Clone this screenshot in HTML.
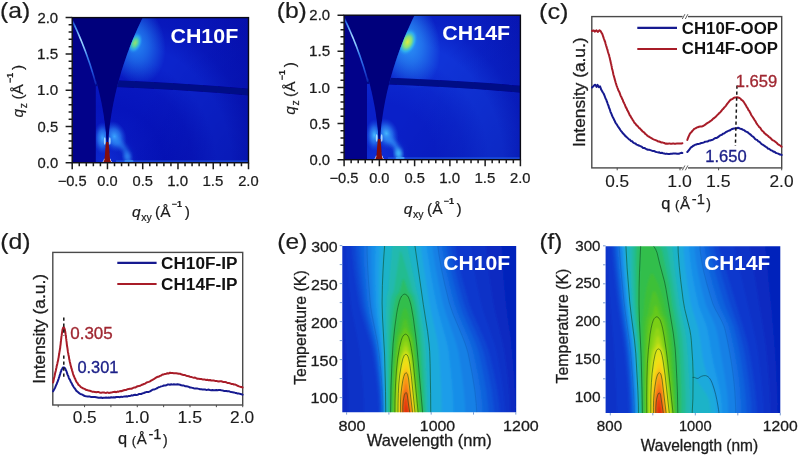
<!DOCTYPE html>
<html lang="en"><head><meta charset="utf-8"><title>Figure</title>
<style>
html,body{margin:0;padding:0;background:#fff;}
body{width:799px;height:456px;overflow:hidden;}
svg{display:block;font-family:'Liberation Sans', Arial, Helvetica, sans-serif;}
</style></head>
<body>
<svg width="799" height="456" viewBox="0 0 799 456">
<defs>
<clipPath id="pac"><rect x="72.20" y="17.60" width="176.30" height="145.15"/></clipPath>
<clipPath id="par"><path d="M107.46 162.75L107.52 156.64L107.71 150.53L108.02 144.42L108.46 138.32L109.02 132.21L109.71 126.10L110.52 119.99L111.46 113.88L112.52 107.77L113.70 101.67L115.02 95.56L116.45 89.45L118.01 83.34L119.70 77.23L121.51 71.12L123.45 65.02L125.51 58.91L127.69 52.80L130.00 46.69L132.44 40.58L135.00 34.47L137.68 28.37L140.49 22.26L143.43 16.15L248.50 16.15L248.50 162.75Z"/></clipPath>
<clipPath id="pal"><path d="M107.46 162.75L107.44 159.36L107.38 155.98L107.29 152.59L107.15 149.20L106.98 145.82L106.77 142.43L106.52 139.04L106.23 135.66L105.91 132.27L105.54 128.88L105.14 125.49L104.70 122.11L104.22 118.72L103.70 115.33L103.14 111.95L102.55 108.56L101.91 105.17L101.24 101.79L100.53 98.40L99.78 95.01L98.99 91.63L98.17 88.24L97.30 84.85L96.40 81.47L95.82 81.47L95.82 162.75Z"/></clipPath>
<radialGradient id="pag" gradientUnits="userSpaceOnUse" cx="107.46" cy="162.75" r="204.51"><stop offset="0.0000" stop-color="#0e2cd4"/><stop offset="0.0862" stop-color="#0a22c8"/><stop offset="0.1552" stop-color="#0818c0"/><stop offset="0.2759" stop-color="#0614bc"/><stop offset="0.4138" stop-color="#0818c0"/><stop offset="0.5345" stop-color="#0c24cc"/><stop offset="0.6034" stop-color="#0c24cc"/><stop offset="0.7241" stop-color="#0818bc"/><stop offset="1.0000" stop-color="#0610b0"/></radialGradient>
<linearGradient id="padk" gradientUnits="userSpaceOnUse" x1="149.8" y1="90.2" x2="248.5" y2="162.8"><stop offset="0" stop-color="#000080" stop-opacity="0"/><stop offset="1" stop-color="#000080" stop-opacity="0.3"/></linearGradient>
<filter id="pab0" x="-50%" y="-50%" width="200%" height="200%"><feGaussianBlur stdDeviation="0.35"/></filter>
<filter id="pab1" x="-50%" y="-50%" width="200%" height="200%"><feGaussianBlur stdDeviation="0.7"/></filter>
<filter id="pab2" x="-50%" y="-50%" width="200%" height="200%"><feGaussianBlur stdDeviation="2.2"/></filter>
<filter id="pab3" x="-50%" y="-50%" width="200%" height="200%"><feGaussianBlur stdDeviation="5"/></filter>
<radialGradient id="pah1"><stop offset="0" stop-color="#2488f4" stop-opacity="1"/><stop offset="0.45" stop-color="#2488f4" stop-opacity="0.6"/><stop offset="1" stop-color="#2488f4" stop-opacity="0"/></radialGradient>
<radialGradient id="pah2"><stop offset="0" stop-color="#98e070" stop-opacity="1"/><stop offset="0.35" stop-color="#58d8a0" stop-opacity="0.95"/><stop offset="0.68" stop-color="#30b0f0" stop-opacity="0.7"/><stop offset="1" stop-color="#2080f0" stop-opacity="0"/></radialGradient>
<radialGradient id="pah3"><stop offset="0" stop-color="#3ca4ff" stop-opacity="1"/><stop offset="0.5" stop-color="#2a80f4" stop-opacity="0.7"/><stop offset="1" stop-color="#1a50e0" stop-opacity="0"/></radialGradient>
<linearGradient id="paag" gradientUnits="userSpaceOnUse" x1="0" y1="19.8" x2="0" y2="84.4"><stop offset="0" stop-color="#2a6ae8" stop-opacity="0.3"/><stop offset="0.1" stop-color="#3a88f0"/><stop offset="0.3" stop-color="#a0d8ff"/><stop offset="0.42" stop-color="#88c8ff"/><stop offset="0.58" stop-color="#3880ee"/><stop offset="0.8" stop-color="#2054dc"/><stop offset="1" stop-color="#1a40d0" stop-opacity="0.5"/></linearGradient>
<clipPath id="pbc"><rect x="344.10" y="15.20" width="176.30" height="144.50"/></clipPath>
<clipPath id="pbr"><path d="M379.36 159.70L379.42 153.62L379.61 147.54L379.92 141.46L380.36 135.38L380.92 129.29L381.61 123.21L382.42 117.13L383.36 111.05L384.42 104.97L385.60 98.89L386.92 92.81L388.35 86.73L389.91 80.65L391.60 74.57L393.41 68.48L395.35 62.40L397.41 56.32L399.59 50.24L401.90 44.16L404.34 38.08L406.90 32.00L409.58 25.92L412.39 19.84L415.33 13.75L520.40 13.75L520.40 159.70Z"/></clipPath>
<clipPath id="pbl"><path d="M379.36 159.70L379.34 156.33L379.28 152.96L379.19 149.58L379.05 146.21L378.88 142.84L378.67 139.47L378.42 136.10L378.13 132.73L377.81 129.35L377.44 125.98L377.04 122.61L376.60 119.24L376.12 115.87L375.60 112.50L375.04 109.12L374.45 105.75L373.81 102.38L373.14 99.01L372.43 95.64L371.68 92.27L370.89 88.89L370.07 85.52L369.20 82.15L368.30 78.78L367.02 78.78L367.02 159.70Z"/></clipPath>
<radialGradient id="pbg" gradientUnits="userSpaceOnUse" cx="379.36" cy="159.70" r="204.51"><stop offset="0.0000" stop-color="#1030d8"/><stop offset="0.0862" stop-color="#0c28ce"/><stop offset="0.1552" stop-color="#0a20c8"/><stop offset="0.2759" stop-color="#0a20c8"/><stop offset="0.4138" stop-color="#0c28ce"/><stop offset="0.5345" stop-color="#1034d8"/><stop offset="0.6034" stop-color="#1034d8"/><stop offset="0.7241" stop-color="#0a22c6"/><stop offset="1.0000" stop-color="#0816b4"/></radialGradient>
<linearGradient id="pbdk" gradientUnits="userSpaceOnUse" x1="421.7" y1="87.4" x2="520.4" y2="159.7"><stop offset="0" stop-color="#000080" stop-opacity="0"/><stop offset="1" stop-color="#000080" stop-opacity="0.25"/></linearGradient>
<filter id="pbb0" x="-50%" y="-50%" width="200%" height="200%"><feGaussianBlur stdDeviation="0.35"/></filter>
<filter id="pbb1" x="-50%" y="-50%" width="200%" height="200%"><feGaussianBlur stdDeviation="0.7"/></filter>
<filter id="pbb2" x="-50%" y="-50%" width="200%" height="200%"><feGaussianBlur stdDeviation="2.2"/></filter>
<filter id="pbb3" x="-50%" y="-50%" width="200%" height="200%"><feGaussianBlur stdDeviation="5"/></filter>
<radialGradient id="pbh1"><stop offset="0" stop-color="#2c98f8" stop-opacity="1"/><stop offset="0.45" stop-color="#2c98f8" stop-opacity="0.6"/><stop offset="1" stop-color="#2c98f8" stop-opacity="0"/></radialGradient>
<radialGradient id="pbh2"><stop offset="0" stop-color="#dcec40" stop-opacity="1"/><stop offset="0.4" stop-color="#88e478" stop-opacity="0.95"/><stop offset="0.7" stop-color="#30bcf0" stop-opacity="0.7"/><stop offset="1" stop-color="#2080f0" stop-opacity="0"/></radialGradient>
<radialGradient id="pbh3"><stop offset="0" stop-color="#46baff" stop-opacity="1"/><stop offset="0.5" stop-color="#2a80f4" stop-opacity="0.7"/><stop offset="1" stop-color="#1a50e0" stop-opacity="0"/></radialGradient>
<linearGradient id="pbag" gradientUnits="userSpaceOnUse" x1="0" y1="17.4" x2="0" y2="81.7"><stop offset="0" stop-color="#2a6ae8" stop-opacity="0.3"/><stop offset="0.1" stop-color="#3a88f0"/><stop offset="0.3" stop-color="#a0d8ff"/><stop offset="0.42" stop-color="#88c8ff"/><stop offset="0.58" stop-color="#3880ee"/><stop offset="0.8" stop-color="#2054dc"/><stop offset="1" stop-color="#1a40d0" stop-opacity="0.5"/></linearGradient>
<clipPath id="pec"><rect x="342.30" y="246.00" width="173.90" height="166.20"/></clipPath>
<filter id="pebl" x="-5%" y="-5%" width="110%" height="110%"><feGaussianBlur stdDeviation="0.8"/></filter>
<clipPath id="pfc"><rect x="605.60" y="246.20" width="174.70" height="166.80"/></clipPath>
<filter id="pfbl" x="-5%" y="-5%" width="110%" height="110%"><feGaussianBlur stdDeviation="0.8"/></filter>
</defs>
<rect width="799" height="456" fill="#ffffff"/>
<g id="pa">
<g clip-path="url(#pac)">
<rect x="72.20" y="17.60" width="176.30" height="145.15" fill="#02028a"/>
<path d="M71.49 16.15L74.43 22.26L77.24 28.37L79.92 34.47L82.48 40.58L84.92 46.69L87.23 52.80L89.41 58.91L91.47 65.02L93.41 71.12L95.22 77.23L96.91 83.34L98.47 89.45L99.90 95.56L101.22 101.67L102.40 107.77L103.46 113.88L104.40 119.99L105.21 126.10L105.90 132.21L106.46 138.32L106.90 144.42L107.21 150.53L107.40 156.64L107.46 162.75L107.46 162.75L107.52 156.64L107.71 150.53L108.02 144.42L108.46 138.32L109.02 132.21L109.71 126.10L110.52 119.99L111.46 113.88L112.52 107.77L113.70 101.67L115.02 95.56L116.45 89.45L118.01 83.34L119.70 77.23L121.51 71.12L123.45 65.02L125.51 58.91L127.69 52.80L130.00 46.69L132.44 40.58L135.00 34.47L137.68 28.37L140.49 22.26L143.43 16.15Z" fill="#00007c"/>
<g clip-path="url(#par)">
<rect x="72.20" y="17.60" width="176.30" height="145.15" fill="url(#pag)"/>
<rect x="72.20" y="17.60" width="176.30" height="145.15" fill="url(#padk)"/>
<ellipse cx="135.10" cy="42.86" rx="42" ry="30" transform="rotate(77.0 135.10 42.86)" fill="url(#pah1)"/>
<ellipse cx="135.10" cy="42.86" rx="7" ry="11" transform="rotate(21.8 135.10 42.86)" fill="url(#pah2)"/>
<ellipse cx="114.51" cy="136.62" rx="12" ry="16" transform="rotate(-18 114.5 136.6)" fill="url(#pah3)"/>
<path d="M113.10 139.63A20.80 23.55 0 0 1 128.26 161.30" fill="none" stroke="#2f8cf6" stroke-opacity="0.75" stroke-width="4.5" filter="url(#pab2)"/>
<ellipse cx="128.97" cy="161.15" rx="4.6" ry="1.3" fill="#58b8ff" opacity="0.6" filter="url(#pab1)"/>
<ellipse cx="127.21" cy="156.58" rx="2.6" ry="4.2" fill="#3aa0ff" opacity="0.7" filter="url(#pab2)"/>
<rect x="115.92" y="160.35" width="132.58" height="1.6" fill="#2f7cf0" opacity="0.45" filter="url(#pab1)"/>
</g>
<g clip-path="url(#pal)">
<rect x="72.20" y="17.60" width="176.30" height="145.15" fill="url(#pag)"/>
<ellipse cx="102.52" cy="138.07" rx="9" ry="16" fill="url(#pah3)"/>
</g>
<g clip-path="url(#par)"><path d="M93.36 82.70Q177.98 85.53 249.50 92.21" fill="none" stroke="#040886" stroke-width="6.8" filter="url(#pab1)"/></g>
<g clip-path="url(#pal)"><path d="M93.36 82.70Q177.98 85.53 249.50 92.21" fill="none" stroke="#040886" stroke-width="6.8" filter="url(#pab1)"/></g>
<path d="M95.88 84.37L95.16 81.68L94.42 78.99L93.65 76.30L92.86 73.60L92.04 70.91L91.21 68.22L90.34 65.53L89.45 62.84L88.54 60.15L87.61 57.46L86.64 54.76L85.66 52.07L84.65 49.38L83.62 46.69L82.56 44.00L81.48 41.31L80.37 38.62L79.24 35.93L78.09 33.23L76.91 30.54L75.70 27.85L74.48 25.16L73.23 22.47L71.95 19.78" fill="none" stroke="url(#paag)" stroke-width="1.6" filter="url(#pab1)"/>
<ellipse cx="104.76" cy="140.98" rx="0.9" ry="3.8" fill="#c8f0ff" opacity="0.8" filter="url(#pab1)"/>
<ellipse cx="109.76" cy="140.98" rx="0.9" ry="3.8" fill="#c8f0ff" opacity="0.8" filter="url(#pab1)"/>
<path d="M101.66 162.75Q103.86 161.25 104.06 158.75L110.46 158.75Q110.66 161.25 112.86 162.75Z" fill="#e8f8ff" filter="url(#pab1)"/>
<path d="M106.56 143.15L105.66 126.46L104.06 114.85L110.46 114.85L108.86 126.46L107.96 143.15Z" fill="#00007c" filter="url(#pab0)"/>
<path d="M103.06 162.75Q104.66 160.75 104.76 156.94L105.36 148.24L106.06 142.07L108.46 142.07L109.16 148.24L109.76 156.94Q109.86 160.75 111.46 162.75Z" fill="#820e0e" filter="url(#pab0)"/>
</g>
<rect x="72.20" y="17.60" width="176.30" height="145.15" fill="none" stroke="#0a0a14" stroke-width="1.4"/>
<path d="M72.20 162.75v6.6M79.25 162.75v3.6M86.30 162.75v3.6M93.36 162.75v3.6M100.41 162.75v3.6M107.46 162.75v6.6M114.51 162.75v3.6M121.56 162.75v3.6M128.62 162.75v3.6M135.67 162.75v3.6M142.72 162.75v6.6M149.77 162.75v3.6M156.82 162.75v3.6M163.88 162.75v3.6M170.93 162.75v3.6M177.98 162.75v6.6M185.03 162.75v3.6M192.08 162.75v3.6M199.14 162.75v3.6M206.19 162.75v3.6M213.24 162.75v6.6M220.29 162.75v3.6M227.34 162.75v3.6M234.40 162.75v3.6M241.45 162.75v3.6M248.50 162.75v6.6M72.20 162.75h-6.6M72.20 155.49h-3.6M72.20 148.24h-3.6M72.20 140.98h-3.6M72.20 133.72h-3.6M72.20 126.46h-6.6M72.20 119.20h-3.6M72.20 111.95h-3.6M72.20 104.69h-3.6M72.20 97.43h-3.6M72.20 90.17h-6.6M72.20 82.92h-3.6M72.20 75.66h-3.6M72.20 68.40h-3.6M72.20 61.14h-3.6M72.20 53.89h-6.6M72.20 46.63h-3.6M72.20 39.37h-3.6M72.20 32.11h-3.6M72.20 24.86h-3.6M72.20 17.60h-6.6" stroke="#1c1c1c" stroke-width="1.5" fill="none"/>
<text transform="translate(57.67 186.11) scale(1.048 1)" font-size="13.99" fill="#1c1c1c" stroke="#1c1c1c" stroke-width="0.25">−0.5</text>
<text transform="translate(97.27 186.11) scale(1.045 1)" font-size="13.99" fill="#1c1c1c" stroke="#1c1c1c" stroke-width="0.25">0.0</text>
<text transform="translate(132.53 186.11) scale(1.047 1)" font-size="13.99" fill="#1c1c1c" stroke="#1c1c1c" stroke-width="0.25">0.5</text>
<text transform="translate(167.25 186.11) scale(1.074 1)" font-size="13.99" fill="#1c1c1c" stroke="#1c1c1c" stroke-width="0.25">1.0</text>
<text transform="translate(202.51 186.11) scale(1.061 1)" font-size="14.19" fill="#1c1c1c" stroke="#1c1c1c" stroke-width="0.25">1.5</text>
<text transform="translate(238.16 186.11) scale(1.053 1)" font-size="13.99" fill="#1c1c1c" stroke="#1c1c1c" stroke-width="0.25">2.0</text>
<text transform="translate(37.61 167.91) scale(1.056 1)" font-size="13.99" fill="#1c1c1c" stroke="#1c1c1c" stroke-width="0.25">0.0</text>
<text transform="translate(37.61 131.62) scale(1.058 1)" font-size="13.99" fill="#1c1c1c" stroke="#1c1c1c" stroke-width="0.25">0.5</text>
<text transform="translate(37.06 95.34) scale(1.085 1)" font-size="13.99" fill="#1c1c1c" stroke="#1c1c1c" stroke-width="0.25">1.0</text>
<text transform="translate(37.06 59.05) scale(1.072 1)" font-size="14.19" fill="#1c1c1c" stroke="#1c1c1c" stroke-width="0.25">1.5</text>
<text transform="translate(37.46 22.76) scale(1.064 1)" font-size="13.99" fill="#1c1c1c" stroke="#1c1c1c" stroke-width="0.25">2.0</text>
<text transform="translate(170.44 42.59) scale(1.023 1)" font-size="20.92" font-weight="bold" fill="#ffffff">CH10F</text>
<text transform="translate(0.05 18.43) scale(1.147 1)" font-size="21.55" fill="#1c1c1c" stroke="#1c1c1c" stroke-width="0.2">(a)</text>
<text x="131.95" y="217.30" font-size="15.5" fill="#1c1c1c" stroke="#1c1c1c" stroke-width="0.2"><tspan font-style="italic">q</tspan><tspan font-size="10.5" dy="3.6" dx="0.6">xy</tspan><tspan dy="-3.6" dx="3.4">(Å</tspan><tspan font-size="9" dy="-10.2" dx="1.2" font-weight="bold">−1</tspan><tspan dy="10.2" dx="2.6">)</tspan></text>
<text transform="translate(23.00 117.47) rotate(-90)" font-size="15.5" fill="#1c1c1c" stroke="#1c1c1c" stroke-width="0.2"><tspan font-style="italic">q</tspan><tspan font-size="10.5" dy="3.6" dx="0.6">z</tspan><tspan dy="-3.6" dx="3.4">(Å</tspan><tspan font-size="9" dy="-10.2" dx="1.2" font-weight="bold">−1</tspan><tspan dy="10.2" dx="2.6">)</tspan></text>
</g>
<g id="pb">
<g clip-path="url(#pbc)">
<rect x="344.10" y="15.20" width="176.30" height="144.50" fill="#02028a"/>
<path d="M343.39 13.75L346.33 19.84L349.14 25.92L351.82 32.00L354.38 38.08L356.82 44.16L359.13 50.24L361.31 56.32L363.37 62.40L365.31 68.48L367.12 74.57L368.81 80.65L370.37 86.73L371.80 92.81L373.12 98.89L374.30 104.97L375.36 111.05L376.30 117.13L377.11 123.21L377.80 129.29L378.36 135.38L378.80 141.46L379.11 147.54L379.30 153.62L379.36 159.70L379.36 159.70L379.42 153.62L379.61 147.54L379.92 141.46L380.36 135.38L380.92 129.29L381.61 123.21L382.42 117.13L383.36 111.05L384.42 104.97L385.60 98.89L386.92 92.81L388.35 86.73L389.91 80.65L391.60 74.57L393.41 68.48L395.35 62.40L397.41 56.32L399.59 50.24L401.90 44.16L404.34 38.08L406.90 32.00L409.58 25.92L412.39 19.84L415.33 13.75Z" fill="#00007c"/>
<g clip-path="url(#pbr)">
<rect x="344.10" y="15.20" width="176.30" height="144.50" fill="url(#pbg)"/>
<rect x="344.10" y="15.20" width="176.30" height="144.50" fill="url(#pbdk)"/>
<ellipse cx="407.57" cy="41.93" rx="48" ry="32" transform="rotate(76.5 407.57 41.93)" fill="url(#pbh1)"/>
<ellipse cx="407.57" cy="41.93" rx="9.5" ry="14.5" transform="rotate(21.8 407.57 41.93)" fill="url(#pbh2)"/>
<ellipse cx="386.41" cy="133.69" rx="12" ry="16" transform="rotate(-18 386.4 133.7)" fill="url(#pbh3)"/>
<path d="M385.00 137.46A20.10 22.65 0 0 1 399.46 158.25" fill="none" stroke="#2f8cf6" stroke-opacity="1.0" stroke-width="4.5" filter="url(#pbb2)"/>
<ellipse cx="400.16" cy="158.10" rx="4.6" ry="1.3" fill="#58b8ff" opacity="0.8" filter="url(#pbb1)"/>
<ellipse cx="398.40" cy="153.56" rx="2.6" ry="4.2" fill="#48d0ff" opacity="1.0" filter="url(#pbb2)"/>
<rect x="387.82" y="157.30" width="132.58" height="1.6" fill="#2f7cf0" opacity="0.45" filter="url(#pbb1)"/>
</g>
<g clip-path="url(#pbl)">
<rect x="344.10" y="15.20" width="176.30" height="144.50" fill="url(#pbg)"/>
<ellipse cx="374.42" cy="135.13" rx="9" ry="16" fill="url(#pbh3)"/>
</g>
<g clip-path="url(#pbr)"><path d="M365.26 80.37Q449.88 82.90 521.40 89.26" fill="none" stroke="#040886" stroke-width="6.8" filter="url(#pbb1)"/></g>
<g clip-path="url(#pbl)"><path d="M365.26 80.37Q449.88 82.90 521.40 89.26" fill="none" stroke="#040886" stroke-width="6.8" filter="url(#pbb1)"/></g>
<path d="M367.78 81.67L367.06 78.99L366.32 76.31L365.55 73.63L364.76 70.95L363.94 68.27L363.11 65.59L362.24 62.92L361.35 60.24L360.44 57.56L359.51 54.88L358.54 52.20L357.56 49.52L356.55 46.84L355.52 44.16L354.46 41.48L353.38 38.80L352.27 36.12L351.14 33.44L349.99 30.76L348.81 28.08L347.60 25.41L346.38 22.73L345.13 20.05L343.85 17.37" fill="none" stroke="url(#pbag)" stroke-width="1.6" filter="url(#pbb1)"/>
<ellipse cx="376.66" cy="138.02" rx="0.9" ry="3.8" fill="#c8f0ff" opacity="0.8" filter="url(#pbb1)"/>
<ellipse cx="381.66" cy="138.02" rx="0.9" ry="3.8" fill="#c8f0ff" opacity="0.8" filter="url(#pbb1)"/>
<path d="M373.56 159.70Q375.76 158.20 375.96 155.70L382.36 155.70Q382.56 158.20 384.76 159.70Z" fill="#e8f8ff" filter="url(#pbb1)"/>
<path d="M378.46 140.19L377.56 123.57L375.96 112.01L382.36 112.01L380.76 123.57L379.86 140.19Z" fill="#00007c" filter="url(#pbb0)"/>
<path d="M374.96 159.70Q376.56 157.70 376.66 153.92L377.26 145.25L377.96 139.11L380.36 139.11L381.06 145.25L381.66 153.92Q381.76 157.70 383.36 159.70Z" fill="#820e0e" filter="url(#pbb0)"/>
</g>
<rect x="344.10" y="15.20" width="176.30" height="144.50" fill="none" stroke="#0a0a14" stroke-width="1.4"/>
<path d="M344.10 159.70v6.6M351.15 159.70v3.6M358.20 159.70v3.6M365.26 159.70v3.6M372.31 159.70v3.6M379.36 159.70v6.6M386.41 159.70v3.6M393.46 159.70v3.6M400.52 159.70v3.6M407.57 159.70v3.6M414.62 159.70v6.6M421.67 159.70v3.6M428.72 159.70v3.6M435.78 159.70v3.6M442.83 159.70v3.6M449.88 159.70v6.6M456.93 159.70v3.6M463.98 159.70v3.6M471.04 159.70v3.6M478.09 159.70v3.6M485.14 159.70v6.6M492.19 159.70v3.6M499.24 159.70v3.6M506.30 159.70v3.6M513.35 159.70v3.6M520.40 159.70v6.6M344.10 159.70h-6.6M344.10 152.47h-3.6M344.10 145.25h-3.6M344.10 138.02h-3.6M344.10 130.80h-3.6M344.10 123.57h-6.6M344.10 116.35h-3.6M344.10 109.12h-3.6M344.10 101.90h-3.6M344.10 94.67h-3.6M344.10 87.45h-6.6M344.10 80.22h-3.6M344.10 73.00h-3.6M344.10 65.77h-3.6M344.10 58.55h-3.6M344.10 51.32h-6.6M344.10 44.10h-3.6M344.10 36.87h-3.6M344.10 29.65h-3.6M344.10 22.42h-3.6M344.10 15.20h-6.6" stroke="#1c1c1c" stroke-width="1.5" fill="none"/>
<text transform="translate(329.57 183.06) scale(1.048 1)" font-size="13.99" fill="#1c1c1c" stroke="#1c1c1c" stroke-width="0.25">−0.5</text>
<text transform="translate(369.17 183.06) scale(1.045 1)" font-size="13.99" fill="#1c1c1c" stroke="#1c1c1c" stroke-width="0.25">0.0</text>
<text transform="translate(404.43 183.06) scale(1.047 1)" font-size="13.99" fill="#1c1c1c" stroke="#1c1c1c" stroke-width="0.25">0.5</text>
<text transform="translate(439.15 183.06) scale(1.074 1)" font-size="13.99" fill="#1c1c1c" stroke="#1c1c1c" stroke-width="0.25">1.0</text>
<text transform="translate(474.41 183.06) scale(1.061 1)" font-size="14.19" fill="#1c1c1c" stroke="#1c1c1c" stroke-width="0.25">1.5</text>
<text transform="translate(510.06 183.06) scale(1.053 1)" font-size="13.99" fill="#1c1c1c" stroke="#1c1c1c" stroke-width="0.25">2.0</text>
<text transform="translate(309.51 164.86) scale(1.056 1)" font-size="13.99" fill="#1c1c1c" stroke="#1c1c1c" stroke-width="0.25">0.0</text>
<text transform="translate(309.51 128.74) scale(1.058 1)" font-size="13.99" fill="#1c1c1c" stroke="#1c1c1c" stroke-width="0.25">0.5</text>
<text transform="translate(308.96 92.61) scale(1.085 1)" font-size="13.99" fill="#1c1c1c" stroke="#1c1c1c" stroke-width="0.25">1.0</text>
<text transform="translate(308.96 56.48) scale(1.072 1)" font-size="14.19" fill="#1c1c1c" stroke="#1c1c1c" stroke-width="0.25">1.5</text>
<text transform="translate(309.36 20.36) scale(1.064 1)" font-size="13.99" fill="#1c1c1c" stroke="#1c1c1c" stroke-width="0.25">2.0</text>
<text transform="translate(442.34 40.19) scale(1.023 1)" font-size="20.92" font-weight="bold" fill="#ffffff">CH14F</text>
<text transform="translate(276.65 18.43) scale(1.147 1)" font-size="21.55" fill="#1c1c1c" stroke="#1c1c1c" stroke-width="0.2">(b)</text>
<text x="403.85" y="214.20" font-size="15.5" fill="#1c1c1c" stroke="#1c1c1c" stroke-width="0.2"><tspan font-style="italic">q</tspan><tspan font-size="10.5" dy="3.6" dx="0.6">xy</tspan><tspan dy="-3.6" dx="3.4">(Å</tspan><tspan font-size="9" dy="-10.2" dx="1.2" font-weight="bold">−1</tspan><tspan dy="10.2" dx="2.6">)</tspan></text>
<text transform="translate(295.00 114.75) rotate(-90)" font-size="15.5" fill="#1c1c1c" stroke="#1c1c1c" stroke-width="0.2"><tspan font-style="italic">q</tspan><tspan font-size="10.5" dy="3.6" dx="0.6">z</tspan><tspan dy="-3.6" dx="3.4">(Å</tspan><tspan font-size="9" dy="-10.2" dx="1.2" font-weight="bold">−1</tspan><tspan dy="10.2" dx="2.6">)</tspan></text>
</g>
<g id="pc">
<rect x="591.8" y="16.6" width="189.90" height="151.30" fill="#fff" stroke="#4a4a4a" stroke-width="1.4"/>
<rect x="682.6" y="15.10" width="5.4" height="3" fill="#fff"/>
<path d="M682.3 19.00l2.6 -4.8M685.3 19.00l2.6 -4.8" stroke="#4a4a4a" stroke-width="0.9" fill="none"/>
<rect x="682.6" y="166.40" width="5.4" height="3" fill="#fff"/>
<path d="M682.3 170.30l2.6 -4.8M685.3 170.30l2.6 -4.8" stroke="#4a4a4a" stroke-width="0.9" fill="none"/>
<path d="M617.2 167.9v2.4M680.0 167.9v2.4M718.6 167.9v2.4M781.7 167.9v2.4" stroke="#4a4a4a" stroke-width="1" fill="none"/>
<path d="M592.0 31.0L593.5 30.4L595.0 31.6L596.5 30.3L597.2 31.2L598.0 31.9L599.5 30.3L600.8 31.3L601.4 32.7L602.0 33.4L602.5 34.5L603.2 36.8L603.5 37.4L603.8 38.6L604.2 39.4L604.6 40.8L605.1 41.8L605.5 43.5L606.0 45.2L606.3 46.1L606.7 47.4L607.0 48.6L607.4 49.5L607.8 51.3L608.2 52.6L608.6 53.8L609.0 54.9L609.4 56.8L609.7 57.8L610.0 59.1L610.3 60.6L610.6 61.8L610.9 63.2L611.2 64.1L611.4 65.5L611.7 66.5L611.9 68.0L612.1 69.1L612.4 69.7L612.7 71.1L613.0 72.4L613.3 74.2L613.6 75.2L614.0 76.6L614.3 77.6L614.6 78.9L614.9 79.9L615.3 81.3L615.7 82.7L616.1 83.9L616.5 85.3L616.9 86.3L617.4 87.8L617.9 88.9L618.3 90.2L618.9 91.2L619.4 92.2L620.0 93.9L620.5 95.3L621.1 96.6L621.6 97.5L622.1 98.9L622.7 99.8L623.2 101.4L623.8 102.5L624.3 103.6L624.9 104.8L625.5 106.5L626.0 107.7L626.6 108.3L627.1 109.9L627.7 110.8L628.2 111.8L628.8 113.0L629.4 114.4L629.9 115.5L630.5 116.0L631.2 117.6L631.9 118.4L632.6 119.9L633.3 120.7L634.0 122.0L634.7 123.1L635.5 123.8L636.3 125.1L637.2 125.7L638.0 126.5L638.9 127.8L639.9 128.4L640.8 129.5L641.8 130.5L642.7 131.5L643.6 132.1L644.5 132.8L645.5 134.2L646.4 134.6L647.4 135.8L648.4 136.5L649.3 136.8L650.5 137.7L651.8 138.4L653.0 139.1L654.2 139.6L655.5 140.1L656.8 140.7L658.0 141.4L659.2 141.5L660.4 142.0L661.6 142.6L662.9 142.6L664.2 143.0L665.5 143.7L666.7 143.6L668.0 143.7L669.3 143.4L670.6 143.7L671.9 143.8L673.2 143.4L674.4 143.8L675.5 143.8L677.2 143.4L678.8 143.6L680.3 143.4L681.5 143.4L682.4 143.2" stroke="#a81c28" stroke-width="2" fill="none" stroke-linejoin="round" stroke-linecap="round"/>
<path d="M687.3 140.0L687.7 138.9L688.2 137.5L688.8 136.1L689.5 134.6L690.1 133.5L690.9 132.6L691.7 131.8L692.5 130.7L693.3 129.9L694.4 128.7L695.5 128.4L696.6 127.7L697.8 127.2L699.0 126.8L700.3 126.5L701.6 126.6L703.0 126.0L704.1 125.4L705.3 124.7L706.5 123.6L707.7 122.8L709.0 122.1L710.0 121.4L711.0 120.7L712.1 119.9L713.2 118.6L714.3 118.0L715.4 117.1L716.5 116.0L717.3 115.0L718.2 114.3L719.1 113.1L719.9 112.7L720.8 111.7L721.6 110.6L722.4 109.5L723.2 108.9L724.0 107.8L724.9 106.9L725.9 105.8L726.8 104.4L727.6 103.3L728.4 102.4L729.2 101.3L730.0 100.4L731.3 99.4L732.5 99.0L733.6 98.0L734.5 97.6L735.9 97.5L737.0 97.3L738.2 97.5L739.5 98.0L740.4 98.5L741.4 99.8L742.4 100.3L743.5 101.7L744.1 102.4L744.7 103.6L745.3 104.3L745.9 105.4L746.6 106.8L747.3 107.7L748.0 109.0L748.6 110.3L749.2 110.8L749.8 111.9L750.5 113.2L751.1 114.7L751.8 115.8L752.5 116.8L753.3 118.0L754.0 119.1L754.7 120.3L755.4 121.1L756.2 122.7L756.9 123.9L757.7 125.0L758.5 126.0L759.3 127.2L760.1 127.6L760.8 128.7L761.6 130.1L762.5 131.0L763.5 131.8L764.4 133.1L765.3 133.8L766.2 134.7L767.1 135.2L768.1 136.0L769.0 137.0L770.1 137.7L771.2 138.8L772.4 140.1L773.5 140.5L774.6 141.2L775.6 142.0L776.6 142.8L777.8 144.1L779.0 144.8L780.1 145.5L781.0 146.1L781.6 146.8" stroke="#a81c28" stroke-width="2" fill="none" stroke-linejoin="round" stroke-linecap="round"/>
<path d="M592.0 87.5L592.6 86.9L593.5 86.2L594.4 85.2L595.3 84.7L595.9 85.6L596.5 86.9L597.6 84.9L598.2 85.9L598.8 87.1L600.0 86.3L600.3 87.2L600.6 87.9L601.1 89.4L601.6 90.2L602.2 91.4L602.9 92.5L603.6 93.5L604.1 94.7L604.6 95.9L605.2 97.5L605.7 98.8L606.3 99.7L606.8 101.5L607.2 102.3L607.7 103.8L608.1 104.8L608.6 106.0L609.0 107.8L609.5 108.6L609.9 109.8L610.4 111.6L610.9 112.8L611.4 113.7L611.9 115.3L612.4 116.3L613.0 117.6L613.6 118.5L614.2 120.1L614.8 121.1L615.4 122.5L616.1 123.6L616.8 124.4L617.4 125.5L618.1 126.6L618.8 127.6L619.5 128.6L620.2 129.8L621.0 131.0L621.8 131.7L622.6 133.0L623.4 133.8L624.3 134.7L625.2 135.9L626.1 136.6L627.0 137.4L628.0 138.4L629.0 139.4L630.0 139.8L631.1 141.1L632.1 141.3L633.2 142.5L634.3 143.3L635.5 143.5L636.5 144.6L637.6 144.9L638.7 145.6L639.7 145.8L640.9 146.3L642.0 146.9L643.1 147.9L644.3 147.9L645.5 148.7L646.7 149.3L647.9 149.7L649.1 149.7L650.4 150.1L651.7 150.6L653.0 151.1L654.3 151.0L655.5 151.8L656.7 152.1L658.0 152.4L659.3 152.2L660.5 153.1L661.8 152.8L663.1 153.2L664.3 153.5L665.5 153.9L666.8 153.6L668.2 154.1L669.5 153.9L670.8 153.7L672.0 153.7L673.2 153.6L674.4 153.5L675.5 153.5L677.2 153.7L678.8 153.8L680.3 153.1L681.5 152.8L682.4 153.0" stroke="#161a90" stroke-width="2" fill="none" stroke-linejoin="round" stroke-linecap="round"/>
<path d="M687.3 152.0L687.8 151.5L688.5 150.6L689.5 149.3L690.2 148.4L691.0 147.4L691.9 146.9L692.9 146.0L694.0 145.5L695.1 144.7L696.3 144.6L697.6 143.9L698.9 143.9L700.2 143.5L701.5 142.9L702.8 142.7L704.0 142.4L705.2 141.7L706.5 141.6L707.8 141.4L709.0 140.6L710.2 140.6L711.5 140.0L712.8 139.7L714.0 138.8L715.2 138.1L716.5 138.0L717.6 137.4L718.6 136.6L719.7 135.7L720.8 135.1L721.9 134.7L722.9 133.8L724.0 133.6L725.1 132.7L726.2 131.9L727.3 131.5L728.4 130.7L729.5 130.5L730.5 130.0L731.5 129.3L733.0 128.8L734.3 128.4L735.5 128.3L736.8 128.3L738.1 127.8L739.4 128.3L740.6 128.8L742.0 129.2L743.1 129.9L744.3 130.2L745.6 131.4L746.8 131.9L748.0 132.5L749.0 133.5L749.9 134.1L750.9 134.9L751.9 136.0L752.9 136.6L754.0 137.6L755.0 138.9L756.1 139.6L757.2 140.0L758.3 141.4L759.4 141.8L760.5 142.9L761.6 144.1L762.7 144.7L763.7 145.3L764.8 146.1L765.8 146.8L766.9 147.4L767.9 148.7L769.0 148.7L770.1 149.6L771.2 150.4L772.4 150.7L773.5 151.7L774.6 151.7L775.6 152.7L776.6 153.1L778.2 153.6L779.6 154.4L780.8 154.6L781.6 155.0" stroke="#161a90" stroke-width="2" fill="none" stroke-linejoin="round" stroke-linecap="round"/>
<path d="M737 85.5L735.4 146" stroke="#141414" stroke-width="1.5" stroke-dasharray="3.2 2.8" fill="none"/>
<path d="M637.3 27.9H677" stroke="#161a90" stroke-width="2.2"/>
<path d="M637.3 49H677" stroke="#a81c28" stroke-width="2.2"/>
<text transform="translate(681.83 33.53) scale(1.013 1)" font-size="16.60" font-weight="bold" fill="#111">CH10F-OOP</text>
<text transform="translate(681.83 54.23) scale(1.013 1)" font-size="16.60" font-weight="bold" fill="#111">CH14F-OOP</text>
<text transform="translate(735.65 86.74) scale(1.065 1)" font-size="15.60" fill="#a02832" stroke="#a02832" stroke-width="0.3">1.659</text>
<text transform="translate(705.26 161.94) scale(1.062 1)" font-size="15.60" fill="#1c2088" stroke="#1c2088" stroke-width="0.3">1.650</text>
<text transform="translate(605.21 186.54) scale(1.092 1)" font-size="15.80" fill="#1c1c1c" stroke="#1c1c1c" stroke-width="0.12">0.5</text>
<text transform="translate(667.37 186.54) scale(1.120 1)" font-size="15.80" fill="#1c1c1c" stroke="#1c1c1c" stroke-width="0.12">1.0</text>
<text transform="translate(705.97 186.54) scale(1.122 1)" font-size="15.80" fill="#1c1c1c" stroke="#1c1c1c" stroke-width="0.12">1.5</text>
<text transform="translate(769.43 186.54) scale(1.098 1)" font-size="15.80" fill="#1c1c1c" stroke="#1c1c1c" stroke-width="0.12">2.0</text>
<g fill="#1c1c1c" stroke="#1c1c1c" stroke-width="0.25"><text x="661.30" y="208.80" font-size="16.4">q</text><text x="675.10" y="209.20" font-size="13">(</text><text x="680.10" y="208.90" font-size="15">Å</text><text x="691.80" y="203.70" font-size="14.6">-1</text><text x="706.30" y="209.20" font-size="14">)</text></g>
<text transform="translate(585.30 147.10) rotate(-90) scale(1.043 1)" font-size="16.60" fill="#1c1c1c" stroke="#1c1c1c" stroke-width="0.3">Intensity (a.u.)</text>
<text transform="translate(539.02 18.57) scale(1.135 1)" font-size="22.31" fill="#1c1c1c" stroke="#1c1c1c" stroke-width="0.2">(c)</text>
</g>
<g id="pd">
<rect x="52.8" y="252.4" width="189.90" height="152.60" fill="#fff" stroke="#4a4a4a" stroke-width="1.4"/>
<path d="M58.20 405.0v2.2M84.56 405.0v2.2M110.92 405.0v2.2M137.28 405.0v2.2M163.64 405.0v2.2M190.00 405.0v2.2M216.36 405.0v2.2M242.72 405.0v2.2" stroke="#4a4a4a" stroke-width="1" fill="none"/>
<path d="M53.1 382.5L53.3 381.7L53.5 380.8L53.7 379.9L54.0 378.3L54.4 376.9L54.7 375.5L55.0 373.8L55.3 372.6L55.6 371.4L55.9 370.2L56.2 368.5L56.5 367.4L56.7 366.0L57.0 365.2L57.3 363.9L57.6 362.2L57.8 361.6L58.1 360.3L58.3 358.9L58.6 357.6L58.8 356.1L59.0 354.8L59.2 354.0L59.4 352.4L59.6 351.3L59.8 350.1L60.0 348.7L60.2 347.7L60.3 346.3L60.5 345.1L60.7 343.5L60.8 342.2L61.0 340.7L61.1 339.5L61.3 338.1L61.4 336.9L61.6 335.7L61.8 334.3L62.0 332.9L62.2 331.6L62.4 330.3L62.6 329.3L63.2 327.7L63.7 327.0L64.2 328.0L64.8 329.4L65.0 330.6L65.2 331.4L65.4 332.9L65.6 334.2L65.8 335.1L66.0 336.8L66.1 338.4L66.3 339.3L66.4 340.9L66.6 341.9L66.7 343.0L66.9 344.8L67.1 346.3L67.3 347.4L67.5 348.7L67.7 350.1L67.9 351.7L68.1 352.8L68.3 353.6L68.5 355.0L68.8 356.2L69.0 357.4L69.2 359.1L69.5 360.0L69.7 361.4L70.0 362.5L70.3 363.7L70.6 365.4L71.0 366.3L71.3 368.0L71.7 368.9L72.0 370.3L72.4 371.4L72.7 372.6L73.1 374.1L73.6 375.5L74.1 376.5L74.7 378.2L75.2 378.9L75.7 380.2L76.3 381.5L77.0 382.6L77.7 383.3L78.4 384.9L79.2 385.3L80.0 386.1L80.9 387.2L81.8 387.6L82.8 388.2L83.8 388.6L85.0 389.1L86.1 389.9L87.3 390.1L88.5 390.6L89.8 390.8L91.1 391.2L92.5 391.8L93.7 391.7L94.9 391.9L96.2 392.3L97.5 392.0L98.8 392.1L100.0 392.7L101.3 392.7L102.5 392.4L103.8 392.4L105.0 392.8L106.2 392.9L107.4 392.4L108.7 392.9L110.0 392.7L111.2 392.5L112.4 392.3L113.7 391.9L114.9 391.8L116.2 392.2L117.5 391.6L118.7 391.7L120.0 391.1L121.2 391.3L122.5 390.8L123.8 390.3L125.0 390.0L126.2 390.0L127.5 389.2L128.8 389.0L130.0 388.8L131.3 388.7L132.6 388.2L133.9 387.6L135.2 387.6L136.4 386.8L137.7 386.3L138.9 386.1L140.0 385.8L141.4 385.0L142.7 384.5L143.9 384.0L145.1 383.6L146.3 382.7L147.5 382.2L148.8 381.9L150.0 381.4L151.2 380.5L152.5 379.9L153.8 379.2L155.0 378.3L156.2 377.5L157.5 376.8L158.8 376.7L160.0 375.9L161.2 375.5L162.5 374.4L163.8 374.4L165.0 373.9L166.2 373.7L167.5 373.2L168.8 373.5L170.0 372.7L171.2 372.9L172.5 373.0L173.8 373.2L175.0 373.2L176.2 373.3L177.5 373.5L178.8 373.8L180.0 373.7L181.2 374.3L182.5 374.7L183.8 375.1L185.0 375.1L186.2 375.7L187.5 376.1L188.8 376.3L190.0 376.7L191.2 376.9L192.5 377.4L193.8 377.7L195.0 377.6L196.2 378.2L197.5 378.7L198.8 378.8L200.0 378.9L201.2 379.0L202.5 379.4L203.8 379.5L205.0 379.6L206.2 380.0L207.5 379.7L208.7 380.3L210.0 380.0L211.2 380.5L212.5 380.5L213.7 380.5L215.0 380.9L216.3 380.9L217.5 381.2L218.8 381.5L220.1 381.3L221.3 381.3L222.6 381.7L223.8 382.1L225.1 382.0L226.3 382.3L227.5 383.0L228.8 383.1L230.0 383.3L231.3 383.9L232.6 383.9L233.9 384.5L235.3 384.6L236.5 385.2L237.6 385.8L239.1 386.4L240.6 386.9L241.8 387.1L242.6 387.5" stroke="#a81c28" stroke-width="2" fill="none" stroke-linejoin="round" stroke-linecap="round"/>
<path d="M53.1 391.3L53.5 390.5L54.2 389.4L54.9 388.1L55.6 386.3L56.3 384.7L56.8 383.8L57.2 382.5L57.7 381.6L58.1 380.2L58.6 378.8L59.0 377.5L59.4 376.4L59.9 374.7L60.3 373.6L60.7 372.1L61.1 371.4L61.5 369.8L61.9 369.4L62.9 367.5L63.8 367.5L64.6 367.7L65.6 369.3L66.0 370.5L66.4 371.0L66.8 372.2L67.3 374.0L67.8 375.1L68.3 376.1L68.8 377.8L69.4 379.1L70.0 379.9L70.6 381.4L71.2 382.4L71.9 383.7L72.5 385.1L73.2 386.1L74.0 387.6L74.7 388.3L75.5 389.4L76.3 390.8L77.2 391.4L78.2 392.3L79.2 393.2L80.2 393.8L81.3 394.3L82.4 394.6L83.6 395.5L84.9 396.0L86.2 396.3L87.5 396.4L88.7 396.4L89.9 396.6L91.2 397.0L92.5 397.1L93.7 396.9L95.0 397.1L96.2 397.3L97.4 397.5L98.6 397.8L99.8 397.7L101.1 397.5L102.5 398.0L103.6 397.8L104.8 397.8L106.1 397.6L107.3 397.7L108.6 397.6L109.9 397.8L111.2 397.3L112.5 397.5L113.8 397.2L115.0 397.5L116.2 397.0L117.5 397.1L118.8 397.1L120.0 397.2L121.2 396.7L122.5 396.9L123.8 396.6L125.1 396.4L126.4 396.3L127.7 396.4L128.9 395.9L130.2 396.0L131.4 395.3L132.5 395.6L133.9 395.0L135.2 394.7L136.4 394.9L137.6 394.8L138.8 394.0L140.0 394.0L141.2 394.0L142.5 393.4L143.8 393.0L145.0 392.5L146.2 392.1L147.5 392.1L148.8 391.9L150.0 391.4L151.2 390.6L152.5 389.7L153.8 389.4L155.0 389.2L156.2 388.7L157.5 388.0L158.8 387.2L160.0 386.9L161.2 386.4L162.5 386.1L163.8 385.5L165.0 385.6L166.2 385.3L167.5 384.6L168.8 384.5L170.0 384.7L171.2 384.3L172.5 384.6L173.8 384.3L175.0 384.5L176.2 384.5L177.5 384.3L178.8 384.5L180.0 384.7L181.2 385.3L182.5 385.5L183.8 385.5L185.0 386.2L186.2 386.2L187.5 386.4L188.8 386.9L190.0 387.5L191.2 387.6L192.5 387.9L193.8 388.3L195.0 388.6L196.2 388.6L197.5 388.6L198.8 388.9L200.0 389.3L201.2 389.3L202.5 389.4L203.8 389.4L205.0 389.5L206.2 389.9L207.5 389.8L208.7 389.6L210.0 390.0L211.2 390.2L212.5 390.1L213.7 390.2L215.0 390.3L216.3 390.1L217.5 390.3L218.8 390.1L220.1 390.0L221.3 390.3L222.6 390.4L223.8 390.9L225.1 390.9L226.3 391.0L227.5 391.3L228.8 391.2L230.0 391.7L231.3 392.1L232.6 392.2L233.9 392.4L235.3 392.9L236.5 393.1L237.6 393.6L239.1 393.6L240.6 394.0L241.8 394.4L242.6 394.7" stroke="#161a90" stroke-width="2" fill="none" stroke-linejoin="round" stroke-linecap="round"/>
<path d="M63.8 317.6V336" stroke="#141414" stroke-width="1.5" stroke-dasharray="3.2 2.8" fill="none"/>
<path d="M63.8 355.6V377.6" stroke="#141414" stroke-width="1.5" stroke-dasharray="3.2 2.8" fill="none"/>
<path d="M117.3 262.9H156.6" stroke="#161a90" stroke-width="2.2"/>
<path d="M117.3 284H156.6" stroke="#a81c28" stroke-width="2.2"/>
<text transform="translate(161.01 268.63) scale(1.037 1)" font-size="16.60" font-weight="bold" fill="#111">CH10F-IP</text>
<text transform="translate(161.01 289.83) scale(1.037 1)" font-size="16.60" font-weight="bold" fill="#111">CH14F-IP</text>
<text transform="translate(70.22 338.94) scale(1.090 1)" font-size="15.60" fill="#a02832" stroke="#a02832" stroke-width="0.3">0.305</text>
<text transform="translate(77.44 372.94) scale(1.051 1)" font-size="15.60" fill="#1c2088" stroke="#1c2088" stroke-width="0.3">0.301</text>
<text transform="translate(72.71 423.34) scale(1.092 1)" font-size="15.80" fill="#1c1c1c" stroke="#1c1c1c" stroke-width="0.12">0.5</text>
<text transform="translate(124.77 423.34) scale(1.120 1)" font-size="15.80" fill="#1c1c1c" stroke="#1c1c1c" stroke-width="0.12">1.0</text>
<text transform="translate(177.47 423.34) scale(1.122 1)" font-size="15.80" fill="#1c1c1c" stroke="#1c1c1c" stroke-width="0.12">1.5</text>
<text transform="translate(230.03 423.34) scale(1.098 1)" font-size="15.80" fill="#1c1c1c" stroke="#1c1c1c" stroke-width="0.12">2.0</text>
<g fill="#1c1c1c" stroke="#1c1c1c" stroke-width="0.25"><text x="117.90" y="444.20" font-size="16.4">q</text><text x="131.70" y="444.60" font-size="13">(</text><text x="136.70" y="444.30" font-size="15">Å</text><text x="148.40" y="439.10" font-size="14.6">-1</text><text x="162.90" y="444.60" font-size="14">)</text></g>
<text transform="translate(44.90 383.70) rotate(-90) scale(1.044 1)" font-size="16.60" fill="#1c1c1c" stroke="#1c1c1c" stroke-width="0.3">Intensity (a.u.)</text>
<text transform="translate(0.25 248.97) scale(1.113 1)" font-size="22.31" fill="#1c1c1c" stroke="#1c1c1c" stroke-width="0.2">(d)</text>
</g>
<g id="pe">
<g clip-path="url(#pec)">
<g filter="url(#pebl)">
<rect x="334.3" y="238.0" width="189.9" height="182.2" fill="#061cb4"/>
<path d="M336.3 240L516.9 240L518 293L520.1 352.5L521.5 418L336.3 418L336.3 240Z" fill="#0624bb"/>
<path d="M336.3 240L501.3 240L502.8 268L505.7 302L507.2 314L511.2 342.5L512.6 355.5L515 390.5L515.6 405L515.9 418L336.3 418L336.3 240Z" fill="#082ac1"/>
<path d="M340 240L485.6 240L486.6 253L488.3 268L490.5 284L493.3 302L495.7 314L502.6 342.5L504.1 349.5L505 355.5L507.5 374.5L509.1 390.5L510.2 405L510.7 418L348.2 418L347.7 391L346.4 356.5L345.6 343.5L343 315L342.2 302.5L340.6 267.5L340 240Z" fill="#0832c7"/>
<path d="M345.9 240L469.9 240L471.4 253L473.8 268L476.8 284L480.8 302L482.2 307.5L484.2 314L494.1 342.5L496.1 349.5L497.4 355.5L500.9 374.5L503.3 390.5L504.8 405L505.5 418L364.3 418L364 405L363.3 391L362.1 375.5L360.2 356.5L359.5 350.5L358.4 343.5L352.7 315L350.7 302.5L348.7 283.5L347.3 267.5L346.3 253L345.9 240Z" fill="#0a38cd"/>
<path d="M351.6 240L454.7 240L455.3 244.5L456.8 253.7L459.8 268.4L463.8 284.6L468.8 302.3L470.8 308.1L473.3 314.3L482.6 335L485.5 342L488.1 349L490 355.5L494.5 375L497.4 390.5L499.4 405L500 412L500.2 418L379.2 418L378.8 405L377.8 391.8L375.8 374.6L373.3 357.4L372.3 351.6L370.3 343.2L362 316L360.1 308.5L359 303.5L356.1 285.5L353.6 267.5L352.2 252.5L351.6 240Z" fill="#0b44d2"/>
<path d="M355.6 240L450 240L451.9 253L454.8 268L458.6 284L463.5 302L465.4 307.5L467.9 314L477.3 335L480.2 342L482.7 349L484.5 355L488.9 374.5L491.9 390.5L493.7 405L494.2 412L494.5 418L380.9 418L380.5 403.5L379.5 390.5L377.8 374.3L375.3 356L374.3 350L372.8 343.4L364.9 315.5L363.3 309L362.1 303L359.3 284L357.3 267.5L356.1 253L355.6 240Z" fill="#0e52d8"/>
<path d="M359.4 240L445.8 240L447.5 253L450.3 268L454 284L458.8 302L460.6 307.5L463 314L472.2 335L475.1 342L477.6 349L479.3 355L483.5 374.5L486.3 390.5L488 405L488.5 411.5L488.7 418L381.8 418L381.5 406L380.8 393.6L379.4 378L377.3 360.3L376.2 352.5L374.8 345L372.9 337L367.3 315.5L365.8 309L364.8 303L362.4 283.5L360.8 267.5L359.8 253L359.4 240Z" fill="#1062dc"/>
<path d="M363.2 240L441.6 240L443.2 253L445.9 268L449.4 284L454 302L455.8 307.5L458.2 314L467.2 335L470 342L472.4 349L474 355L478 374.5L480.7 390.5L482.3 405L482.9 418L382.5 418L382.2 404.5L381.4 389.5L380 373.5L377.9 354L377 348L375.7 341.5L369.2 313.5L368 306.5L367.2 300.5L365.3 281L364.1 266L363.4 252.5L363.2 240Z" fill="#1370e2"/>
<path d="M367.1 240L437.3 240L437.9 246.5L438.9 254L441.4 268.5L444.6 283.5L449.1 302L451 308L453.1 314L461.8 334.8L464.8 342.5L466.8 348.5L468.3 354L472.3 374.3L474.8 390L476.3 404.3L476.7 411.5L476.8 418L383.1 418L382.9 404.5L382.3 390.5L381.2 375L379.2 354L377.3 341.3L371.8 314L370.8 307.5L370.1 301.5L368.5 281.5L367.6 266.5L367.1 253L367.1 240Z" fill="#1680e5"/>
<path d="M371.5 240L431.6 240L433.1 252.5L435.5 267.5L438.6 283.5L442.6 302L444.1 307.5L445.9 313.5L455.5 341L457.3 347.5L458.7 353.5L461.8 373.5L463.8 390L465 404.5L465.3 418L383.8 418L383.6 404.5L383 390L382.1 374L380.5 354L379 342L374.5 314.5L373.6 307.5L373 301.5L372 283L371.4 267.5L371.3 253.5L371.5 240Z" fill="#198ee8"/>
<path d="M376 240L425.8 240L427.2 251.5L429.6 267L432.4 283.5L436 302L438.6 313L445.9 339L447.6 346L448.7 352L450.8 371L452.4 389L453.3 404L453.5 418L384.4 418L384.2 404.5L383.8 390L381.8 354L380.6 342L377.1 315L376 302L375.4 284.5L375.2 269L375.4 254.5L376 240Z" fill="#1c9de9"/>
<path d="M380.4 240L420 240L423.5 265.5L429.4 302.5L431.2 312L436.6 336.5L437.8 343.5L438.7 349.5L439.6 361L441 386L441.6 402.5L441.8 418L385.1 418L384.6 390.5L383.1 354.5L382.4 343.5L379.8 315.5L379 302L378.8 285.5L379 270L379.5 255.5L380.4 240Z" fill="#1daadb"/>
<path d="M385.1 240L414.1 240L423.3 304.4L427.6 331.5L429.1 344L429.7 351.5L430.1 363.5L430.6 393.5L430.8 418L385.8 418L385.5 391.5L384.6 355L382.5 317L382.1 303L382.4 285.5L383 271L383.8 256.9L385.1 240Z" fill="#1fb3c8"/>
<path d="M392.5 240L406.5 240L408 248.5L417 291.5L418.2 295L418.8 297.5L423.7 328.5L425.1 339L425.9 348L426.4 355.5L427.1 376L428.2 418L386.8 418L386.4 353.5L385.8 321.5L386 307.5L386.5 298L386.9 295.5L388 291L391.4 255.5L392.1 247L392.5 240Z" fill="#20b9af"/>
<path d="M400.3 251L400.8 251.1L401.3 251.9L402.8 256.2L406.8 269.9L412.7 291.5L413.1 292.5L414.7 295L415.5 297L416.7 302.5L418.3 312L421.3 333L423 350.5L425 385L426.5 418L388 418L388.2 373L388.6 337.5L389 322L389.6 310L390.3 302.9L391.2 297.5L391.9 295L393.6 292L393.9 290.5L399.5 254L399.8 252.1L400.3 251Z" fill="#23bc90"/>
<path d="M403 279L403.3 278.8L403.8 279.2L404.8 281.1L408.7 292L411.2 295L412.2 297L413.8 303L415.5 312.5L417.9 330.5L419.9 349.5L422.6 386.5L424.7 418L389.3 418L389.6 385L390.2 360.5L391.3 334.5L392.7 316L394 305.5L395.4 298.5L396.6 295.5L399 292.5L399.5 291.5L402.3 280.4L402.8 279.2L403 279Z" fill="#29bd68"/>
<path d="M403.5 294.5L404.8 294.2L405.8 294.5L406.6 295L407.8 296.3L408.8 298.1L409.8 300.8L410.8 304.5L412.8 314.8L415.7 335.5L417 347.5L423.1 418L390.5 418L390.9 391L391.5 371L392.5 352L393.8 335.5L396 318L397.3 310L398.3 305.3L399.3 301.5L400.8 297.5L401.8 295.9L403.5 294.5Z" fill="#32be4b"/>
<path d="M404.5 308L404.8 307.8L405.3 307.7L406.3 308.8L407.3 310.9L408.4 314L410.3 320.7L412.5 331.5L413.6 335L414 337.5L415.1 345.5L416.4 358.5L421.9 418L391.6 418L392 393.5L392.7 375L393.7 357.5L395.1 342.5L396.1 335.5L397.2 332L398.7 324.5L400 319L402.5 311.5L403.8 308.8L404.5 308Z" fill="#3ec039"/>
<path d="M404.7 319L405.3 318.6L405.8 318.9L406.8 320.8L408.2 325L410.2 332L411.9 335.5L413 340.5L414 347.5L415.2 358.5L420.7 418L392.7 418L393.1 395.5L393.7 378L394.7 362L396.1 348L397.2 340.5L398.2 336L398.7 334.5L400.1 332L402.8 323.1L403.8 320.5L404.7 319Z" fill="#4fc32a"/>
<path d="M405.1 328L405.3 327.8L405.8 328L406.3 328.7L407.7 332L410.1 335.5L411.1 338.5L412 343.5L414.1 360.5L419.7 418L393.8 418L394.1 398L394.7 381.5L395.6 366.5L397 353.5L398.4 343.5L399.9 337L400.8 335L402.8 332.5L404.3 329L405.1 328Z" fill="#65c91e"/>
<path d="M404.5 334.5L405.3 334.2L406.3 334.4L407.3 335.1L408.3 336.5L409.8 340.8L411.1 347.5L412.4 355.5L413.1 361.5L418.7 418L394.8 418L395 400L395.5 385.5L396.4 371.5L397.5 360.5L399.3 348.7L400.8 341.8L401.8 338.6L402.7 336.5L403.4 335.5L404.5 334.5Z" fill="#7bcf17"/>
<path d="M405.3 340.5L405.8 340.4L406.8 341.2L408.2 344L409.3 347.4L411.6 357L412.9 368L417.8 418L395.7 418L395.9 400.5L396.3 388L397 375.5L398.2 364L399.5 355.5L401.8 347.4L403.7 342.5L404.3 341.5L405.3 340.5Z" fill="#91d515"/>
<path d="M405.2 346L405.8 345.7L406.3 346L407.3 347.6L408.8 352L410.1 355L410.9 358.5L412.1 368.5L417 418L396.4 418L396.6 401.5L397 389L397.7 378L398.7 367.5L399.8 360.5L400.8 355.7L402.5 352L404.2 347.5L405.2 346Z" fill="#acdb14"/>
<path d="M405.3 351L405.8 350.7L406.3 350.9L408.8 354.6L409.5 356.5L410.3 360.5L411.9 374L416.3 418L397.2 418L397.3 403L397.6 392L398.2 381.5L399.1 372.5L400.3 363.8L401.7 357L402.8 354.5L405.3 351Z" fill="#cce114"/>
<path d="M405.2 354.5L405.8 354.3L406.6 354.5L407.3 355.1L407.8 355.9L408.8 358.9L409.8 364.1L411.3 375.5L415.6 418L397.9 418L398.2 394.5L398.8 385L399.5 376.5L401.1 366.5L402.3 360.6L403.8 356.2L404.3 355.4L405.2 354.5Z" fill="#e3e215"/>
<path d="M405.6 359.5L406.3 359.4L406.8 359.9L407.8 361.9L408.7 365.5L410.4 374L415 418L398.6 418L398.8 396L399.3 387.5L400.1 379.5L401 373.5L403.1 365L404.3 361.4L404.8 360.4L405.6 359.5Z" fill="#f1de17"/>
<path d="M405.3 365L405.8 364.5L406.3 364.5L407 365.5L408.5 370.5L409.3 372.7L409.7 374.5L414.4 418L399.3 418L399.4 398.5L399.8 390.7L400.5 383L401.2 377.5L401.9 374L403.3 370.5L404.6 366.5L405.3 365Z" fill="#f8d118"/>
<path d="M405.4 370L405.8 369.6L406.3 369.5L406.8 370.1L408.4 373L409 375.5L413.8 418L400 418L400 400L400.3 393L401.1 385L401.8 379.9L402.8 375L403.5 373L405.4 370Z" fill="#f8bb18"/>
<path d="M405.6 373L406.3 372.8L406.8 373.1L407.3 373.8L407.8 375.1L408.3 377.2L413.2 418L400.6 418L400.4 403.5L401.1 393L402.3 383.4L403.3 378.3L404.3 374.9L404.8 373.9L405.6 373Z" fill="#f8a618"/>
<path d="M405.4 378.5L405.8 378.1L406.3 378L406.8 378.6L407.3 379.8L407.9 382.5L409.6 393L410.6 403L412.6 418L401.1 418L401 405L401.5 396L401.9 393L403.8 383L404.8 379.7L405.4 378.5Z" fill="#f89218"/>
<path d="M405.6 384L405.8 383.7L406.3 383.7L406.8 384.5L408.8 392.7L410 404L412 418L401.7 418L401.5 406L401.9 398L402.8 392.8L403.8 390L404.8 385.8L405.6 384Z" fill="#f67d17"/>
<path d="M405.7 389.5L405.8 389.3L406.3 389.3L406.8 390.1L408 393L409.4 404.5L411.3 418L402.3 418L402.1 406.5L402.5 399.5L403 396L403.7 393L404.3 391.8L405.7 389.5Z" fill="#f26715"/>
<path d="M405.4 393L405.8 392.7L406.3 392.7L406.8 393.4L407.3 395.2L408.6 405L410.6 418L402.9 418L402.8 407.5L403.1 402L403.6 398.5L404.3 395.5L404.8 394L405.4 393Z" fill="#ed5213"/>
<path d="M405.4 399.5L405.8 399.1L406.3 399.4L406.8 400.7L409.3 414.5L409.8 418L403.6 418L403.7 410L403.9 406L404.5 402L405.4 399.5Z" fill="#e73e11"/>
<path d="M405.6 406.5L405.8 406.2L406.3 406.3L406.8 407.4L407.8 411.8L408.7 418L404.4 418L404.8 410.4L405.3 407.3L405.6 406.5Z" fill="#df2e0f"/>
<path d="M406.2 413.5L406.8 414.1L407.3 415.9L407.6 418L405.3 418L405.8 414.3L406.2 413.5Z" fill="#d5210c"/>
</g>
<path d="M414.1 240L423.3 304.4L427.6 331.5L429.1 344L429.7 351.5L430.1 363.5L430.6 393.5L430.8 418M385.8 418L385.5 391.5L384.6 355L382.5 317L382.1 303L382.4 285.5L383 271L383.8 256.9L385.1 240" fill="none" stroke="#0c4418" stroke-opacity="0.62" stroke-width="0.9"/>
<path d="M390.5 418L391 387L391.9 363.5L393.1 343.5L394.8 327.2L396.8 312.8L397.8 307.5L399.3 301.5L400.3 298.7L401.7 296L403.3 294.6L404.3 294.2L404.8 294.2L405.8 294.5L407.3 295.6L408.3 297.1L409.3 299.4L410.3 302.5L411.3 306.7L413.3 318L415.7 336L417 348L423.1 418" fill="none" stroke="#0c4418" stroke-opacity="0.62" stroke-width="0.9"/>
<path d="M394.8 418L395 400L395.5 385L396.4 371L397.6 359L399.5 347.5L401.3 340.1L402.3 337.4L403 336L403.9 335L405.3 334.2L406.3 334.4L407.3 335.1L408.3 336.5L408.8 337.6L410.2 342.5L411.3 348.4L412.5 356L413.2 362L418.7 418" fill="none" stroke="#0c4418" stroke-opacity="0.62" stroke-width="0.9"/>
<path d="M397.9 418L398 403.5L398.3 393.5L398.8 384L399.7 375L401.3 365.2L402.8 358.8L404.2 355.5L404.8 354.8L405.8 354.3L406.3 354.4L407.2 355L408 356.5L408.8 358.9L409.8 364.1L411.3 375.5L415.6 418" fill="none" stroke="#0c4418" stroke-opacity="0.62" stroke-width="0.9"/>
<path d="M400.6 418L400.5 401L400.9 394.5L401.8 386.9L402.8 380.6L403.8 376.4L404.8 373.9L405.6 373L406.3 372.8L407.1 373.5L407.6 374.5L408.6 379L413.2 418" fill="none" stroke="#0c4418" stroke-opacity="0.62" stroke-width="0.9"/>
<path d="M402.9 418L402.8 407L403.2 401L404.3 395.4L405.1 393.5L405.8 392.7L406.3 392.7L406.8 393.4L407.3 395.2L408.6 405L410.6 418" fill="none" stroke="#0c4418" stroke-opacity="0.62" stroke-width="0.9"/>
<path d="M437.3 240L437.9 246.5L438.9 254L441.4 268.5L444.6 283.5L449.1 302L451 308L453.1 314L461.8 334.8L464.8 342.5L466.8 348.5L468.3 354L472.3 374.3L474.8 390L476.3 404.3L476.7 411.5L476.8 418M383.1 418L382.9 404.5L382.3 390.5L381.2 375L379.2 354L377.3 341.3L371.8 314L370.8 307.5L370.1 301.5L368.5 281.5L367.6 266.5L367.1 253L367.1 240" fill="none" stroke="#0a3060" stroke-opacity="0.25" stroke-width="0.6"/>
</g>
<path d="M342.30 245.60h-2.6M342.30 264.60h-2.6M342.30 283.60h-2.6M342.30 302.60h-2.6M342.30 321.60h-2.6M342.30 340.60h-2.6M342.30 359.60h-2.6M342.30 378.60h-2.6M342.30 397.60h-2.6M346.60 412.20v2.4M388.90 412.20v2.4M431.20 412.20v2.4M473.50 412.20v2.4M515.80 412.20v2.4" stroke="#5a84c8" stroke-width="0.8" fill="none"/>
<text transform="translate(443.16 269.59) scale(1.006 1)" font-size="21.00" font-weight="bold" fill="#ffffff">CH10F</text>
<text transform="translate(277.37 248.57) scale(1.100 1)" font-size="22.31" fill="#1c1c1c" stroke="#1c1c1c" stroke-width="0.2">(e)</text>
<text transform="translate(338.51 430.55) scale(1.069 1)" font-size="15.20" fill="#1c1c1c" stroke="#1c1c1c" stroke-width="0.3">800</text>
<text transform="translate(419.81 430.55) scale(1.045 1)" font-size="15.20" fill="#1c1c1c" stroke="#1c1c1c" stroke-width="0.3">1000</text>
<text transform="translate(503.10 430.55) scale(1.054 1)" font-size="15.20" fill="#1c1c1c" stroke="#1c1c1c" stroke-width="0.3">1200</text>
<text transform="translate(311.20 251.85) scale(1.045 1)" font-size="15.20" fill="#1c1c1c" stroke="#1c1c1c" stroke-width="0.3">300</text>
<text transform="translate(311.00 289.75) scale(1.053 1)" font-size="15.20" fill="#1c1c1c" stroke="#1c1c1c" stroke-width="0.3">250</text>
<text transform="translate(311.00 327.65) scale(1.053 1)" font-size="15.20" fill="#1c1c1c" stroke="#1c1c1c" stroke-width="0.3">200</text>
<text transform="translate(310.58 365.55) scale(1.070 1)" font-size="15.20" fill="#1c1c1c" stroke="#1c1c1c" stroke-width="0.3">150</text>
<text transform="translate(310.58 403.45) scale(1.070 1)" font-size="15.20" fill="#1c1c1c" stroke="#1c1c1c" stroke-width="0.3">100</text>
<text transform="translate(366.72 446.34) scale(1.019 1)" font-size="16.20" fill="#1c1c1c" stroke="#1c1c1c" stroke-width="0.3">Wavelength (nm)</text>
<text transform="translate(305.70 384.86) rotate(-90) scale(0.992 1)" font-size="16.00" fill="#1c1c1c" stroke="#1c1c1c" stroke-width="0.3">Temperature (K)</text>
</g>
<g id="pf">
<g clip-path="url(#pfc)">
<g filter="url(#pfbl)">
<rect x="597.6" y="238.2" width="190.7" height="182.8" fill="#061cb4"/>
<path d="M599.6 240.2L780.8 240.2L783.7 346.2L784.4 387.2L784.6 418.7L599.6 418.7L599.6 240.2Z" fill="#0624bb"/>
<path d="M599.6 240.2L764.7 240.2L773 325.7L774.8 346.2L775.8 363.2L776.9 386.2L777.5 403.2L777.7 418.7L599.6 418.7L599.6 240.2Z" fill="#082ac1"/>
<path d="M600.7 240.2L748.6 240.2L755 277.7L762.9 325.7L765.9 346.2L767.6 363.1L769.5 386.2L770.4 403.2L770.9 418.7L603.9 418.7L603.1 353.2L601.9 302.2L600.7 240.2Z" fill="#0832c7"/>
<path d="M606.1 240.2L732.4 240.2L741.6 278L752.7 325.7L755.1 336.7L757 346.2L758.1 353.3L759.4 363.2L762 386.2L763.4 403.2L764 418.7L617 418.7L616.2 389.7L614.4 353.7L613.4 340.2L609.9 300.7L607.7 267.7L606.1 240.2Z" fill="#0a38cd"/>
<path d="M611.1 240.2L716.8 240.2L717.1 241.5L727.8 275.7L736.6 305.4L742.8 325.7L745.8 336.2L748.3 346.2L749.8 353.7L751.4 363.2L754.8 386.7L756.5 403.2L757.3 418.7L629.2 418.7L628.6 402.7L628.1 393L627.1 378.8L625.1 355.7L623.1 339.5L618.8 312.2L617.3 300.7L613.3 265.2L611.1 240.2Z" fill="#0b44d2"/>
<path d="M613.3 240.2L712.2 240.2L712.6 242.5L715.6 253.9L722.4 277.7L730.1 303.7L738.4 327.2L740.8 336.2L743.1 345.7L744.7 353.2L746.4 363.2L749.5 385.2L751.2 402.7L751.9 418.7L631.2 418.7L630.7 404.7L630.1 392.6L629.1 378.3L627.1 355L625.6 342.3L620.9 311.7L619.4 300.2L615.9 268.7L613.3 240.2Z" fill="#0e52d8"/>
<path d="M615.1 240.2L708.1 240.2L709.3 247.7L711.7 258.7L714.6 270.1L718.1 282.7L724.6 304.2L726.5 309.2L731.6 321.1L733.7 326.7L735.6 333.7L738.1 344.7L739.8 353.2L741.6 363.7L744.5 384.7L746.1 402.2L746.5 410.7L746.6 418.7L632.4 418.7L631.9 404.7L631.1 389.7L630 373.2L628.3 354.2L626.7 340.2L622.5 312.7L621 300.7L617.4 267.7L615.1 240.2Z" fill="#1062dc"/>
<path d="M616.9 240.2L703.9 240.2L704.9 249.2L706.7 259.7L709.3 271.2L712.6 283.7L717.4 299.7L718.9 304.2L721 309.2L726.9 321.2L729.1 326.7L730.3 331.2L733 343.2L734.9 352.7L736.7 363.2L738.2 373.7L739.5 383.7L740.3 392.7L741 401.7L741.3 410.2L741.3 418.7L633.5 418.7L633.1 405.2L632.3 390.2L631.2 373.7L629.6 354.2L628 340.7L624 312.7L622.5 300.7L619.1 268.2L616.9 240.2Z" fill="#1370e2"/>
<path d="M618.6 240.2L699.7 240.2L700.2 250.2L701.7 261.2L703.9 272.2L707.2 285.2L711.4 299.2L713.1 304.2L715.4 309.2L721.6 320.6L724.1 326.3L725.1 329.7L727.6 341.2L731.6 363.1L733.1 373.1L734.6 385.4L735.9 402.2L736.1 410.7L736 418.7L634.6 418.7L634.2 405.2L633.5 390.7L632.4 374.2L630.8 354.2L629.3 340.7L625.4 312.7L623.9 300.7L620.8 268.2L618.6 240.2Z" fill="#1680e5"/>
<path d="M620.3 240.2L694.4 240.2L694.8 250.7L696.1 261.7L698.2 273.7L701.2 287.2L704.7 300.7L705.9 304.7L708 309.7L713.5 321.2L715.4 326.2L716.6 330.2L718.1 337.7L724.5 374.7L726.8 390.2L727.6 397.7L728 404.7L728.1 411.2L728 418.7L635.6 418.7L635.3 405.2L634.6 390.3L632.1 354.2L630.6 340.7L626.8 313.2L625.4 301.2L622.3 268.2L620.3 240.2Z" fill="#198ee8"/>
<path d="M621.9 240.2L688.9 240.2L689.3 250.7L690.4 262.2L692.2 274.7L695 289.2L697.6 301.2L698.6 305.2L700.4 310.2L705.2 322.2L707.2 328.7L708.8 336.7L711.2 351.7L712.9 360.7L714.5 368.2L718.5 384.2L720 391.2L721.1 398.2L721.7 405.2L721.9 411.7L721.7 418.7L636.6 418.7L636.3 405.2L635.7 390.7L633.4 354.2L631.9 340.7L628.2 313.2L626.8 301.2L623.8 268.2L621.9 240.2Z" fill="#1c9de9"/>
<path d="M623.6 240.2L683.4 240.2L683.8 252.7L685.1 266.7L687.1 281.9L690.3 301.2L692 308.2L696.7 323.2L698.5 329.7L699.8 337.2L702.4 356.2L704.3 365.7L706.7 373.2L712.6 388.5L713.9 392.7L714.9 396.7L715.9 402.2L716.4 407.7L716.5 412.7L716.2 418.7L637.5 418.7L637.3 405.2L636.8 390.7L634.6 353.7L633.2 340.7L629.6 313.7L628.2 301.2L625.2 266.7L623.6 240.2Z" fill="#1daadb"/>
<path d="M625.6 240.2L677.9 240.2L678.2 251.7L679.1 264.7L680.1 275.2L682.1 292L684.1 306L685.6 312.8L689.3 327.7L690.8 335.2L691.3 339.7L693.1 361.6L694.3 370.7L695.6 376.3L697.5 381.2L699.6 384.7L705.6 392.9L707.4 396.2L708.8 399.7L709.9 404.2L710.5 408.7L710.6 413.2L710 418.7L638.5 418.7L638.4 405.2L637.9 390.7L635.8 353.7L634.5 340.2L631.1 313.9L629.7 301.2L627.1 267.8L625.6 240.2Z" fill="#1fb3c8"/>
<path d="M629 240.2L671.5 240.2L671.6 243.7L672.9 250.7L674.6 266.7L679.5 302.7L681 310.7L685.2 329.7L686.7 339.2L688 355.7L690.5 398.7L690.5 408.7L689.7 418.7L639.5 418.7L639.4 405.7L639 391.7L637.2 355.7L636.2 342.7L633 314.2L631.8 301.7L629.9 268.7L629 240.2Z" fill="#20b9af"/>
<path d="M632.8 240.2L665.2 240.2L665.1 242.2L665.3 243.7L667.2 249.2L668 252.7L669.8 265.2L673.2 284.7L676.2 305.2L680.8 328.7L682.4 338.7L683.8 356.2L685.5 391.7L685.8 405.7L685.3 418.7L640.5 418.7L640 390.7L638.4 354.2L637.5 341.7L634.8 312.2L633.9 297.2L632.9 266.7L632.8 240.2Z" fill="#23bc90"/>
<path d="M636.6 240.2L658.8 240.2L658.6 242.2L658.9 243.7L661.7 249.2L662.7 252.2L665.2 265.2L669.3 284.7L672.4 305.2L676.7 329.2L678.3 340.7L679.6 355.2L681 384.7L681.5 403.2L681.3 418.7L641.5 418.7L641 390.2L639.7 354.7L639 342.7L637 316.2L636.4 302.2L636 269.2L636.1 254.7L636.6 240.2Z" fill="#29bd68"/>
<path d="M640.9 240.2L651.9 240.2L651.8 242.2L652.3 244.2L655.6 249.2L657.1 252.9L659.8 264.2L663.6 277.9L665.1 284.2L672.8 329.7L674.2 339.7L675.2 348.2L676 359.7L677.3 387.2L677.9 403.7L678 418.7L642.5 418.7L642 390.2L641.1 354.7L639.4 320.2L639 304.2L639.1 287.8L639.5 272.2L640.9 240.2Z" fill="#32be4b"/>
<path d="M651.4 273.2L652.1 273.3L652.6 273.7L653.6 275L655.1 277.6L657.8 283.2L660.2 289.2L663.1 299.1L666.6 314.2L668.1 318.7L669.6 326.2L671.8 340.7L673.2 354.7L675.5 390.7L676.5 418.7L643.6 418.7L642.4 333.7L642.6 320.2L642.8 317.7L643.4 314.7L644.5 300.7L646.2 289.7L647.5 283.7L649 278.2L650.5 274.2L651.1 273.4L651.4 273.2Z" fill="#3ec039"/>
<path d="M653.5 291.2L654.1 290.8L654.6 291.1L655.1 291.6L656.6 294.5L658.1 298.2L660.6 305.4L663.1 314.2L665.1 317.7L665.6 319.2L666.6 323.2L667.7 328.7L669.6 341.7L671 355.2L674 393.2L675.5 418.7L644.6 418.7L644.3 386.2L644.3 365.7L644.7 340.7L645.3 326.7L645.8 321.7L646.3 318.7L646.7 317.2L647.9 314.7L649.2 306.7L650.4 300.7L652.2 294.2L652.9 292.2L653.5 291.2Z" fill="#4fc32a"/>
<path d="M655.1 305.7L655.6 305.3L656.1 305.5L656.6 306.2L657.6 308.3L659.9 314.7L661.9 317.2L662.8 318.7L664.1 323.2L665.5 330.2L667.2 341.7L668.8 355.2L672.8 397.7L674.5 418.7L645.7 418.7L645.5 390.7L645.7 370.7L646.4 351.7L647.4 335.2L648.3 326.2L649.4 320.2L650.3 317.7L652.4 314.7L654.1 308.1L655.1 305.7Z" fill="#65c91e"/>
<path d="M655.6 317.2L656.6 316.8L657.8 317.2L659.1 318.3L660.1 320L661.1 322.6L662.1 326.2L663.6 333.3L666.2 350.2L667.2 358.2L673.6 418.7L646.8 418.7L646.7 396.2L646.9 379.7L647.4 364.2L648.3 350.7L649.9 335.7L651.6 325.9L652.6 322.2L653.6 319.6L654.5 318.2L655.6 317.2Z" fill="#7bcf17"/>
<path d="M656.8 327.7L657.1 327.5L657.6 327.4L658.6 328.4L660.3 332.2L661.9 337.7L663.7 346.2L665 351.2L666.9 365.7L672.6 418.7L647.9 418.7L647.8 398.2L648 382.7L648.6 368.7L649.5 356.2L650.2 350.2L651.2 346.7L653.2 336.7L655.1 330.7L656.1 328.6L656.8 327.7Z" fill="#91d515"/>
<path d="M657.2 336.2L657.6 335.8L658.1 335.8L658.6 336.3L659.3 337.7L660.5 341.2L662 346.7L663.4 349.7L664.2 353.2L665.9 365.7L671.7 418.7L648.9 418.7L648.8 400.2L649 386.2L649.6 373.2L650.5 361.7L651.2 355.2L652.1 350.5L652.5 349.2L653.7 346.7L656 338.7L657.2 336.2Z" fill="#acdb14"/>
<path d="M657.6 343.7L658.1 343.3L658.6 343.5L659.1 344.3L660.4 347.2L662 349.7L662.7 351.7L663.5 355.7L665.8 373.2L670.8 418.7L649.9 418.7L649.9 401.2L650.1 388.2L650.6 376.2L651.5 365.2L652.6 356.9L653.8 351.2L654.3 349.7L656.3 346.7L657.6 343.7Z" fill="#cce114"/>
<path d="M657.6 349.2L658.1 348.9L659.1 349L659.9 349.7L660.6 350.7L661.6 353.5L662.6 358L665 374.7L669.9 418.7L650.8 418.7L650.9 394.2L651.3 383.7L652 374.7L653.3 363.7L654.6 356.4L656.1 351.3L656.7 350.2L657.6 349.2Z" fill="#e3e215"/>
<path d="M658.3 356.2L658.6 356L659.1 356L659.6 356.4L660.1 357.2L660.9 359.2L661.9 363.2L663.2 370.2L664 373.7L669.1 418.7L651.6 418.7L651.7 395.7L652.1 386.7L652.8 378.2L653.5 373.2L655.8 362.7L657.1 358.3L657.6 357.2L658.3 356.2Z" fill="#f1de17"/>
<path d="M658.8 362.7L659.1 362.6L659.6 362.9L660.5 364.7L661.9 370.2L662.8 372.7L663.3 374.7L668.2 418.7L652.3 418.7L652.4 397.7L652.8 388.7L653.5 381.2L654.7 373.7L656.1 370.2L657.6 364.9L658.1 363.7L658.8 362.7Z" fill="#f8d118"/>
<path d="M658.7 369.2L659.1 368.7L659.6 368.9L660.1 369.7L661.9 373.2L662.6 376L667.5 418.7L653 418.7L653 400.2L653.3 392.7L654.1 384.5L655 378.2L656 374.2L656.6 372.7L658.7 369.2Z" fill="#f8bb18"/>
<path d="M658.5 373.2L659.1 372.7L659.6 372.7L660.2 373.2L661.1 375L661.7 377.2L662.6 383.6L666.8 418.7L653.6 418.7L653.5 404.2L654.1 393.3L655.1 385.2L656.1 379.6L657.1 375.9L657.6 374.6L658.5 373.2Z" fill="#f8a618"/>
<path d="M658.8 378.7L659.1 378.4L659.6 378.4L660.1 379L660.8 380.7L661.4 383.7L663.1 393.7L664.2 403.7L666.1 418.7L654.1 418.7L654 405.2L654.6 395.8L656.9 383.7L658 380.2L658.8 378.7Z" fill="#f89218"/>
<path d="M658.9 384.2L659.1 384L659.6 384L660.1 384.8L662.2 393.2L663.5 404.2L665.5 418.7L654.7 418.7L654.5 405.7L655.1 397.7L655.9 393.2L657 390.2L658.1 385.9L658.9 384.2Z" fill="#f67d17"/>
<path d="M659 389.7L659.1 389.5L659.6 389.6L660.1 390.3L661.1 392.3L661.5 393.7L662.9 405.2L664.9 418.7L655.3 418.7L655.1 406.7L655.6 399.5L656.1 396.4L656.8 393.7L657.6 391.8L659 389.7Z" fill="#f26715"/>
<path d="M658.7 393.2L659.1 392.9L659.6 393L660.1 393.6L660.6 395.2L664.2 418.7L655.9 418.7L655.8 408.7L656.1 402.9L657.1 397L658.1 394.2L658.7 393.2Z" fill="#ed5213"/>
<path d="M658.7 399.7L659.1 399.4L659.6 399.7L660.1 400.9L662.6 414.1L663.3 418.7L656.7 418.7L656.7 410.7L657.1 405.7L657.7 402.2L658.1 400.9L658.7 399.7Z" fill="#e73e11"/>
<path d="M659 406.7L659.1 406.5L659.6 406.7L660.1 407.8L660.6 409.7L661.6 414.7L662.2 418.7L657.5 418.7L658.1 410.2L658.6 407.5L659 406.7Z" fill="#df2e0f"/>
<path d="M659.3 414.2L659.6 413.8L660.1 414.6L660.6 416.4L661 418.7L658.5 418.7L658.7 416.2L659.3 414.2Z" fill="#d5210c"/>
</g>
<path d="M677.9 240.2L678.2 252.2L679.2 265.7L680.6 279.6L683.1 299.7L684.6 308.5L689.9 330.2L690.8 335.7L691.3 340.2L692.7 361.2L693.1 375.2L692.9 398.7L691.9 418.7M638.5 418.7L638.4 405.2L637.9 390.7L635.8 353.7L634.5 340.2L631.1 313.9L629.7 301.2L627.1 267.8L625.6 240.2" fill="none" stroke="#0c4418" stroke-opacity="0.62" stroke-width="0.9"/>
<path d="M651.9 240.2L651.8 242.2L652.3 244.2L655.6 249.2L657.1 252.9L659.8 264.2L664.6 282L666.1 289.5L673.3 333.2L675.2 348.7L676.2 364.7L677.4 391.2L677.9 418.7M642.5 418.7L642 390.2L641.1 354.7L639.4 320.2L639 304.2L639.1 287.8L639.5 272.2L640.9 240.2" fill="none" stroke="#0c4418" stroke-opacity="0.62" stroke-width="0.9"/>
<path d="M646.8 418.7L646.7 396.2L646.9 379.2L647.4 363.2L648.4 349.7L650.1 334.3L651.1 328.3L652.1 323.9L653.1 320.7L654.1 318.7L655.6 317.2L656.6 316.8L657.6 317.1L659 318.2L659.7 319.2L660.6 321.2L661.6 324.3L662.6 328.2L664.1 336.2L666.3 350.7L667.3 358.7L673.6 418.7" fill="none" stroke="#0c4418" stroke-opacity="0.62" stroke-width="0.9"/>
<path d="M650.8 418.7L650.8 403.7L650.9 393.2L651.4 382.7L652.1 373.3L653.6 361.8L655.1 354.3L656 351.7L656.6 350.3L657.6 349.2L658.6 348.9L659.4 349.2L660.1 349.9L661.1 351.9L662.1 355.6L663.1 361L665.1 375.2L669.9 418.7" fill="none" stroke="#0c4418" stroke-opacity="0.62" stroke-width="0.9"/>
<path d="M653.6 418.7L653.4 407.7L653.6 400.7L654.1 393.7L655 386.2L656.1 379.6L657.1 375.9L658.1 373.6L659.1 372.7L659.6 372.7L660.6 373.7L661.1 375L662.1 379.8L666.8 418.7" fill="none" stroke="#0c4418" stroke-opacity="0.62" stroke-width="0.9"/>
<path d="M655.9 418.7L655.8 408.2L656.2 402.2L656.6 399.2L657.6 395.3L658.3 393.7L659.1 392.9L659.6 393L660.1 393.6L660.6 395.2L664.2 418.7" fill="none" stroke="#0c4418" stroke-opacity="0.62" stroke-width="0.9"/>
<path d="M699.7 240.2L700.2 250.2L701.6 260.2L703.8 271.7L707 284.2L711.4 299.2L713.1 304.2L715.4 309.2L721.6 320.6L724.1 326.3L725.1 329.7L727.6 341.3L729.6 351.7L731.6 363.7L733.1 374.3L734.1 383.1L734.9 392.2L735.4 401.2L735.7 409.7L735.6 418.7M634.6 418.7L634.2 405.2L633.5 390.7L632.4 374.2L630.8 354.2L629.3 340.7L625.4 312.7L623.9 300.7L620.8 268.2L618.6 240.2" fill="none" stroke="#0a3060" stroke-opacity="0.25" stroke-width="0.6"/>
<path d="M692.6 377.5C695 376.5 696.5 379.5 698.5 378.2C700 377 702.5 375.3 705.5 375.6C709.5 376.3 711.5 381 713 385.5C715 391 716.6 398 717.6 404C718.3 408 718.8 411 719 413.5" fill="none" stroke="#0c3c40" stroke-opacity="0.6" stroke-width="0.9"/>
</g>
<path d="M605.60 245.80h-2.6M605.60 264.80h-2.6M605.60 283.80h-2.6M605.60 302.80h-2.6M605.60 321.80h-2.6M605.60 340.80h-2.6M605.60 359.80h-2.6M605.60 378.80h-2.6M605.60 397.80h-2.6M610.30 413.00v2.4M652.80 413.00v2.4M695.30 413.00v2.4M737.80 413.00v2.4M780.30 413.00v2.4" stroke="#5a84c8" stroke-width="0.8" fill="none"/>
<text transform="translate(704.27 270.49) scale(0.992 1)" font-size="21.00" font-weight="bold" fill="#ffffff">CH14F</text>
<text transform="translate(539.48 248.57) scale(1.088 1)" font-size="22.31" fill="#1c1c1c" stroke="#1c1c1c" stroke-width="0.2">(f)</text>
<text transform="translate(596.86 430.55) scale(0.995 1)" font-size="15.20" fill="#1c1c1c" stroke="#1c1c1c" stroke-width="0.3">800</text>
<text transform="translate(678.90 430.55) scale(0.967 1)" font-size="15.20" fill="#1c1c1c" stroke="#1c1c1c" stroke-width="0.3">1000</text>
<text transform="translate(762.83 430.55) scale(1.029 1)" font-size="15.20" fill="#1c1c1c" stroke="#1c1c1c" stroke-width="0.3">1200</text>
<text transform="translate(575.33 250.55) scale(0.991 1)" font-size="15.20" fill="#1c1c1c" stroke="#1c1c1c" stroke-width="0.3">300</text>
<text transform="translate(575.14 288.45) scale(0.999 1)" font-size="15.20" fill="#1c1c1c" stroke="#1c1c1c" stroke-width="0.3">250</text>
<text transform="translate(575.14 326.35) scale(0.999 1)" font-size="15.20" fill="#1c1c1c" stroke="#1c1c1c" stroke-width="0.3">200</text>
<text transform="translate(574.74 364.25) scale(1.015 1)" font-size="15.20" fill="#1c1c1c" stroke="#1c1c1c" stroke-width="0.3">150</text>
<text transform="translate(574.74 402.15) scale(1.015 1)" font-size="15.20" fill="#1c1c1c" stroke="#1c1c1c" stroke-width="0.3">100</text>
<text transform="translate(640.72 450.78) scale(0.969 1)" font-size="16.00" fill="#1c1c1c" stroke="#1c1c1c" stroke-width="0.3">Wavelength (nm)</text>
<text transform="translate(568.10 383.46) rotate(-90) scale(0.994 1)" font-size="16.00" fill="#1c1c1c" stroke="#1c1c1c" stroke-width="0.3">Temperature (K)</text>
</g>
</svg>
</body></html>
